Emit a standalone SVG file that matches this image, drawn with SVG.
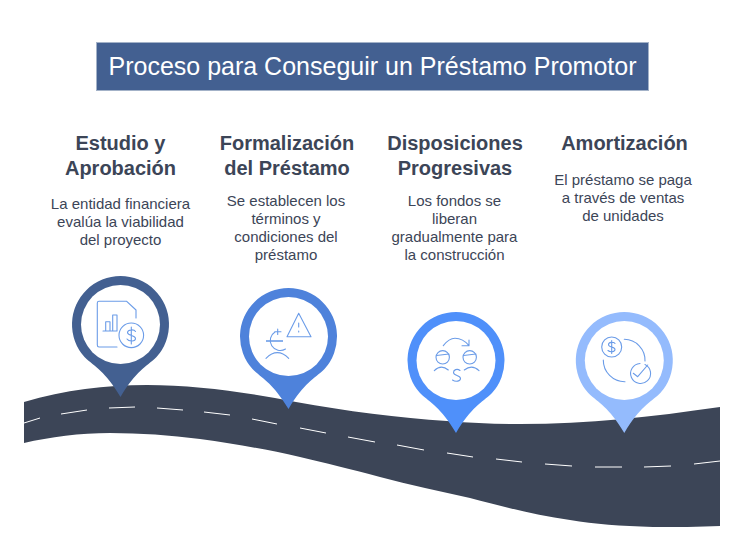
<svg xmlns="http://www.w3.org/2000/svg" width="745" height="553" viewBox="0 0 745 553">
<style>
.h{font:bold 20px "Liberation Sans",Arial,sans-serif;fill:#3c4557;text-anchor:middle}
.b{font:15px "Liberation Sans",Arial,sans-serif;fill:#3c4557;text-anchor:middle}
.i{fill:none;stroke:#6b9ce8;stroke-width:1.1;stroke-linecap:round;stroke-linejoin:round}
.d{fill:none;stroke:#fff;stroke-width:1}
</style>
<defs>
<path id="pin" d="M-36,32.500A48.500,48.500 0 1 1 36,32.500C25,43 16,46 0,72.500C-16,46 -25,43 -36,32.500Z"/>
</defs>
<rect width="745" height="553" fill="#fff"/>
<g id="title">
<rect x="96.500" y="42.500" width="552" height="48" fill="#436091" stroke="#a3b2c8"/>
<text x="372.500" y="75" text-anchor="middle" font-family="'Liberation Sans',Arial,sans-serif" font-size="25" fill="#fff">Proceso para Conseguir un Préstamo Promotor</text>
</g>
<g id="road">
<path d="M24,402C65,390 105,385 147,385C195,385 245,392 296,402C345,411 400,418 447,421C472,423 495,424 520,424C590,424 650,417 720,407V526C700,527 675,527 653,527C620,526 595,524 570,520C535,515 505,507 470,498C440,491 410,485 380,477C350,469 325,463 300,457C265,449 235,444 200,439C170,435 140,433 110,433C80,433 50,437 24,443Z" fill="#3c4557"/>
</g>
<g id="connectors">
<path class="d" d="M24,423L40,418M61,414L87,410M109,408L135,407M157,408L183,410M204,412L230,415M252,419L277,424M300,428L326,433M348,437L375,442M397,445L424,450M447,453L473,457M496,459L522,462M545,464L572,466M595,467L622,467M644,467L671,466M694,464L720,461"/>
</g>
<g id="step1">
<text class="h" x="120.500" y="150">Estudio y</text>
<text class="h" x="120.500" y="175">Aprobación</text>
<text class="b" x="120.500" y="209">La entidad financiera</text>
<text class="b" x="120.500" y="227">evalúa la viabilidad</text>
<text class="b" x="120.500" y="245">del proyecto</text>
<use href="#pin" transform="translate(120.500,324.500)" fill="#436091"/>
<circle cx="120.500" cy="324.500" r="39.500" fill="#fff"/>
<path class="i" d="M117,347H99Q97.300,347 97.300,345V303Q97.300,301.300 99,301.300H126.700L136,310V318M103,331H117V315H112.700V331M110,331V321.700H105.700V331"/>
<circle class="i" cx="131.300" cy="335.300" r="12.300"/>
<path class="i" d="M135.500,331.500C134,329 127.500,329.500 127.500,332.500C127.500,336 135.500,335 135.500,338.500C135.500,341.500 129,342 127,339M131.300,327V344"/>
</g>
<g id="step2">
<text class="h" x="287" y="150">Formalización</text>
<text class="h" x="287" y="175">del Préstamo</text>
<text class="b" x="286" y="206">Se establecen los</text>
<text class="b" x="286" y="224">términos y</text>
<text class="b" x="286" y="242">condiciones del</text>
<text class="b" x="286" y="260">préstamo</text>
<use href="#pin" transform="translate(288.500,336.500)" fill="#4e82db"/>
<circle cx="288.500" cy="336.500" r="39.500" fill="#fff"/>
<path class="i" d="M298.700,313.300L287,336.700H311ZM298.700,323V327M298.700,331V332M277.700,329V334.500M274.700,331.700H281M275,332A9.300,9.300 0 0 0 285.500,349M266,358.300Q277.300,347 288.700,358.300"/>
<path d="M266,341H283" stroke="#6b9ce8" stroke-width="1.600" fill="none"/>
</g>
<g id="step3">
<text class="h" x="455" y="150">Disposiciones</text>
<text class="h" x="455" y="175">Progresivas</text>
<text class="b" x="454.500" y="206">Los fondos se</text>
<text class="b" x="454.500" y="224">liberan</text>
<text class="b" x="454.500" y="242">gradualmente para</text>
<text class="b" x="454.500" y="260">la construcción</text>
<use href="#pin" transform="translate(456,360.500)" fill="#4f90fa"/>
<circle cx="456" cy="360.500" r="39.500" fill="#fff"/>
<circle class="i" cx="442.700" cy="357.300" r="6.700"/>
<circle class="i" cx="469.700" cy="357.300" r="6.700"/>
<path class="i" d="M436.500,355.500L449,354M463.500,355.500L476,354M443.300,345.700Q449,338.300 455,338.300Q463,338.300 469,345.700M462,345.700H469V340M434.300,370.700Q441,364 448.300,370M464.300,370Q472,364 479,370.700M460,370.500C457,368 453.500,370 453.500,372.500C453.500,376 460.500,375 460.500,378.500C460.500,381 456,382.500 452.500,380"/>
</g>
<g id="step4">
<text class="h" x="624.500" y="150">Amortización</text>
<text class="b" x="623" y="185">El préstamo se paga</text>
<text class="b" x="623" y="203">a través de ventas</text>
<text class="b" x="623" y="221">de unidades</text>
<use href="#pin" transform="translate(624.300,360.500)" fill="#94bbfd"/>
<circle cx="624.300" cy="360.500" r="39.500" fill="#fff"/>
<circle class="i" cx="611.700" cy="347" r="10"/>
<path class="i" d="M615,343.500C613.500,341.500 608.500,342 608.500,344.700C608.500,347.500 615,346.500 615,349.500C615,352 610,352.500 608,350.500M611.700,340.500V353.500M624.300,339.300A21,21 0 0 1 645,361M603.300,360A21.500,21.500 0 0 0 625,381.700M645,364.500A10,10 0 1 1 640,363.500M633.300,373.300L637.700,376.700L647.700,365"/>
</g>
</svg>
